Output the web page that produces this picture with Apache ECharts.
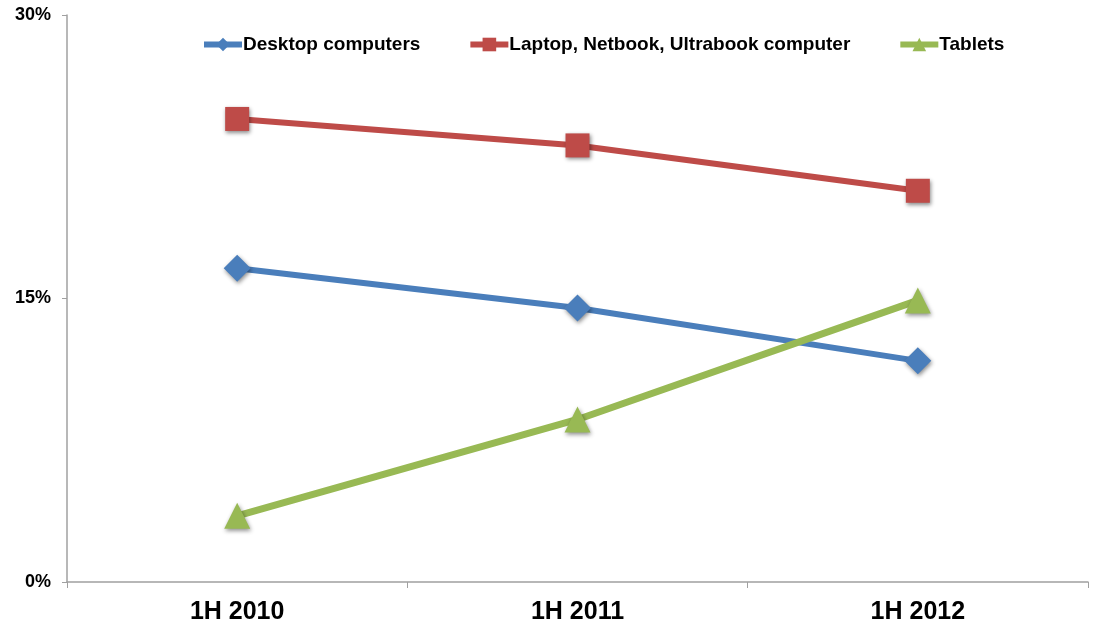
<!DOCTYPE html>
<html><head><meta charset="utf-8">
<script src="https://cdn.jsdelivr.net/npm/echarts@6/dist/echarts.min.js"></script>
<style>html,body{margin:0;padding:0;background:#fff}#c{width:1098px;height:627px}</style>
</head><body><div id="c"></div>
<script>
var categories = ['1H 2010', '1H 2011', '1H 2012'];
var desktop = [16.6, 14.5, 11.7];
var laptop = [24.5, 23.1, 20.7];
var tablets = [3.5, 8.6, 14.9];
var yTicks = [0, 15, 30];

var chart = echarts.init(document.getElementById('c'));
var shadow = {shadowBlur: 4, shadowColor: 'rgba(0,0,0,0.45)', shadowOffsetX: 1, shadowOffsetY: 2};
function mk(name, data, color, symbol, size, width) {
  return {
    name: name, type: 'line', data: data, symbol: symbol, symbolSize: size,
    lineStyle: {color: color, width: width},
    itemStyle: Object.assign({color: color, borderColor: color, borderWidth: 0}, shadow),
    emphasis: {disabled: true}, animation: false
  };
}
chart.setOption({
  animation: false,
  textStyle: {fontFamily: 'Liberation Sans, Arial, sans-serif'},
  legend: {
    top: 30, left: 196, itemGap: 47, itemWidth: 38, itemHeight: 17,
    lineStyle: {width: 6},
    textStyle: {fontWeight: 'bold', fontSize: 19, color: '#000', padding: [0,0,0,-4]},
    data: ['Desktop computers', 'Laptop, Netbook, Ultrabook computer', 'Tablets']
  },
  grid: {left: 67, right: 10, top: 15, bottom: 45, containLabel: false},
  xAxis: {
    type: 'category', data: categories, boundaryGap: true,
    axisLine: {lineStyle: {color: '#a0a0a0', width: 1.5}},
    axisTick: {show: true, length: 6, lineStyle: {color: '#a0a0a0'}},
    axisLabel: {fontWeight: 'bold', fontSize: 25, color: '#000', margin: 18}
  },
  yAxis: {
    type: 'value', min: 0, max: 30, interval: 15,
    axisLine: {show: true, lineStyle: {color: '#a0a0a0', width: 1.5}},
    axisTick: {show: true, length: 5, lineStyle: {color: '#a0a0a0'}},
    splitLine: {show: false},
    axisLabel: {fontWeight: 'bold', fontSize: 18, color: '#000', margin: 16,
      formatter: function (v) { return yTicks.indexOf(v) >= 0 ? v + '%' : ''; }}
  },
  series: [
    mk('Desktop computers', desktop, '#4a7ebb', 'diamond', 27, 6),
    mk('Laptop, Netbook, Ultrabook computer', laptop, '#be4b48', 'rect', 24, 6),
    mk('Tablets', tablets, '#98b954', 'triangle', 26, 7)
  ]
});
</script></body></html>
